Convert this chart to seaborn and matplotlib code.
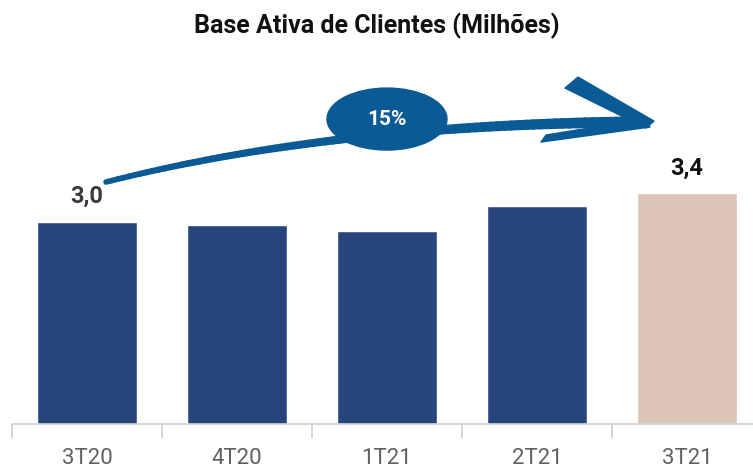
import numpy as np
import pandas as pd
import matplotlib
matplotlib.use("Agg")
import matplotlib.pyplot as plt
import seaborn as sns
from matplotlib.patches import Ellipse, Polygon
from matplotlib.collections import LineCollection
from matplotlib.ticker import FixedLocator

# data
quarters = ["3T20", "4T20", "1T21", "2T21", "3T21"]
clients = [3.0, 2.95, 2.86, 3.23, 3.42]
value_labels = ["3,0", "", "", "", "3,4"]
growth_label = "15%"
title = "Base Ativa de Clientes (Milhões)"

navy = "#27457a"
beige = "#dbc5b6"
arrow_blue = "#0a5a96"

sns.set_style("white")
plt.rcParams["font.family"] = ["Roboto", "DejaVu Sans"]

df = pd.DataFrame({"Quarter": quarters, "Clients": clients})

fig = plt.figure(figsize=(7.53, 4.68), dpi=100)
ax = fig.add_axes([12 / 753, 44 / 468, 750 / 753, 384 / 468])

sns.barplot(data=df, x="Quarter", y="Clients", hue="Quarter",
            palette=[navy] * 4 + [beige], width=0.67, saturation=1,
            legend=False, ax=ax)

ax.set_xlim(-0.5, 4.5)
ax.set_ylim(0, 5.69)
ax.set_xlabel("")
ax.set_ylabel("")
ax.set_yticks([])
for s in ["top", "right", "left"]:
    ax.spines[s].set_visible(False)
ax.spines["bottom"].set_color("#d0d0d0")
ax.spines["bottom"].set_linewidth(1.2)
ax.tick_params(axis="x", which="major", bottom=False, length=0, pad=17,
               labelsize=16, labelcolor="#606060")
ax.xaxis.set_minor_locator(FixedLocator(np.arange(-0.5, 5, 1)))
ax.tick_params(axis="x", which="minor", bottom=True, length=10, width=1.2,
               color="#d0d0d0")

# value labels
for i, (v, lab) in enumerate(zip(clients, value_labels)):
    if lab:
        ax.text(i, v + 0.2, lab, ha="center", va="bottom", fontsize=17,
                fontweight="bold", color="#3a3a3a" if i == 0 else "#111111")

fig.text(0.5, 0.945, title, ha="center", va="center", fontsize=18,
         fontweight="bold", color="#111111")

# curved growth arrow (pixel -> data helpers)
def px(x, y):
    return (x - 87) / 150, (424 - y) / 67.5

p0 = np.array(px(106, 182))
p1 = np.array(px(330, 125))
p2 = np.array(px(630, 122))
t = np.linspace(0, 1, 80)[:, None]
curve = (1 - t) ** 2 * p0 + 2 * t * (1 - t) * p1 + t ** 2 * p2
segs = np.stack([curve[:-1], curve[1:]], axis=1)
widths = np.linspace(4, 8, len(segs))
ax.add_collection(LineCollection(segs, linewidths=widths, colors=arrow_blue,
                                 capstyle="round", zorder=4))

# arrow head barbs
upper = [px(565, 88), px(578, 77), px(654, 121), px(646, 128)]
lower = [px(541, 142), px(546, 135), px(644, 119), px(650, 127)]
for pts in (upper, lower):
    ax.add_patch(Polygon(pts, closed=True, color=arrow_blue, zorder=4,
                         joinstyle="round"))

c = px(387, 119)
ax.add_patch(Ellipse(c, 120 / 150, 62 / 67.5, color=arrow_blue, zorder=5))
ax.text(c[0], c[1], growth_label, ha="center", va="center", color="white",
        fontsize=15, fontweight="bold", zorder=6)

fig.savefig("out.png", dpi=100)
